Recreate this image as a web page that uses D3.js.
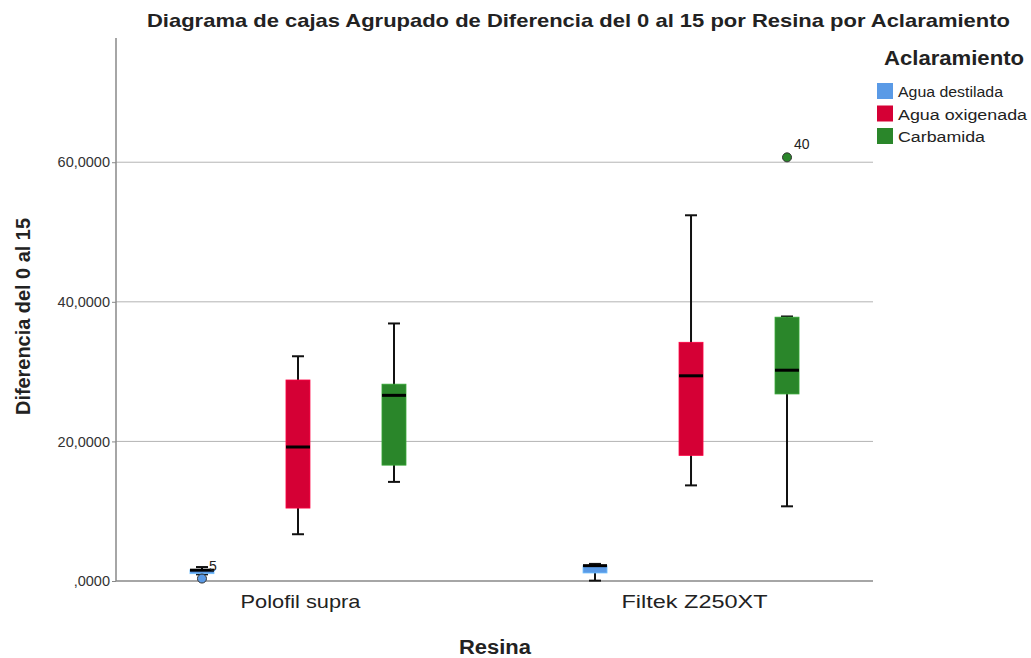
<!DOCTYPE html>
<html>
<head>
<meta charset="utf-8">
<script src="https://cdn.jsdelivr.net/npm/d3@7"></script>
<style>
  body { margin: 0; background: #fff; }
  text { font-family: Arial, "Liberation Sans", sans-serif; }
</style>
</head>
<body>
<div id="chart"></div>
<script>
// Data
let resinas = ["Polofil supra", "Filtek Z250XT"]
let aclaramientos = ["Agua destilada", "Agua oxigenada", "Carbamida"]
let colores = ["#5A9AE6", "#D50035", "#2A862A"]

// [min, q1, mediana, q3, max] por resina, en orden de aclaramiento
let cajasPolofil = [
  [0.95, 1.05, 1.55, 1.6, 2.0],
  [6.7, 10.45, 19.2, 28.8, 32.2],
  [14.2, 16.6, 26.6, 28.2, 36.9]
]
let cajasFiltek = [
  [0.05, 1.15, 2.2, 2.2, 2.45],
  [13.7, 18.0, 29.4, 34.2, 52.4],
  [10.7, 26.8, 30.2, 37.8, 37.9]
]
// atipicos: resina, aclaramiento, valor, etiqueta
let atipicos = [
  {resina: "Polofil supra", grupo: "Agua destilada", valor: 0.35, caso: "5"},
  {resina: "Filtek Z250XT", grupo: "Carbamida", valor: 60.7, caso: "40"}
]
let yTicks = [0, 20, 40, 60]

let width = 1031, height = 658
let margin = {top: 38, right: 158, bottom: 77, left: 116}

let svg = d3.select("#chart")
  .append("svg")
  .attr("width", width)
  .attr("height", height)

let x = d3.scalePoint()
  .domain(resinas)
  .range([margin.left, width - margin.right])
  .padding(0.463)

let xSub = d3.scalePoint()
  .domain(aclaramientos)
  .range([-96, 96])

let y = d3.scaleLinear()
  .domain([0, 77.8])
  .range([height - margin.bottom, margin.top])

let color = d3.scaleOrdinal().domain(aclaramientos).range(colores)

// grid
svg.append("g")
  .selectAll("line")
  .data(yTicks.filter(d => d > 0))
  .enter()
  .append("line")
  .attr("x1", margin.left)
  .attr("x2", width - margin.right)
  .attr("y1", d => y(d))
  .attr("y2", d => y(d))
  .style("stroke", "#b4b4b4")
  .style("stroke-width", 1)

// eje Y
let yAxis = svg.append("g")
  .attr("transform", "translate(" + margin.left + ",0)")
  .call(d3.axisLeft(y).tickValues(yTicks).tickSize(4)
    .tickFormat(d => d === 0 ? ",0000" : d3.format(".4f")(d).replace(".", ",")))
yAxis.select(".domain").style("stroke", "#888").style("stroke-width", 1.5)
  .attr("d", "M0," + margin.top + "V" + (height - margin.bottom))
yAxis.selectAll(".tick line").style("stroke", "#888")
yAxis.selectAll("text")
  .style("font-size", "14.5px")
  .style("fill", "#333")
  .attr("x", -6)

// eje X
let catLen = {"Polofil supra": 120, "Filtek Z250XT": 146}
let xAxis = svg.append("g")
  .attr("transform", "translate(0," + (height - margin.bottom) + ")")
  .call(d3.axisBottom(x).tickSize(0))
xAxis.select(".domain").style("stroke", "#888").style("stroke-width", 1.5)
  .attr("d", "M" + margin.left + ",0H" + (width - margin.right))
xAxis.selectAll("text")
  .attr("y", 14)
  .attr("dx", (d, i) => i === 0 ? 2 : 3)
  .attr("textLength", d => catLen[d])
  .attr("lengthAdjust", "spacingAndGlyphs")
  .style("font-size", "19px")
  .style("fill", "#222")

// cajas
let cajas = []
resinas.forEach((r, i) => {
  let filas = i === 0 ? cajasPolofil : cajasFiltek
  filas.forEach((v, j) => {
    cajas.push({resina: r, grupo: aclaramientos[j], min: v[0], q1: v[1], med: v[2], q3: v[3], max: v[4]})
  })
})

let bw = 24
let g = svg.append("g")
  .selectAll("g")
  .data(cajas)
  .enter()
  .append("g")
  .attr("transform", d => "translate(" + (x(d.resina) + xSub(d.grupo)) + ",0)")

g.append("line")
  .attr("x1", 0).attr("x2", 0)
  .attr("y1", d => y(d.min)).attr("y2", d => y(d.max))
  .style("stroke", "#111").style("stroke-width", 2)

g.append("line")
  .attr("x1", -6).attr("x2", 6)
  .attr("y1", d => y(d.max)).attr("y2", d => y(d.max))
  .style("stroke", "#111").style("stroke-width", 2)

g.append("line")
  .attr("x1", -6).attr("x2", 6)
  .attr("y1", d => y(d.min)).attr("y2", d => y(d.min))
  .style("stroke", "#111").style("stroke-width", 2)

g.append("rect")
  .attr("x", -bw / 2)
  .attr("width", bw)
  .attr("y", d => y(d.q3))
  .attr("height", d => Math.max(2, y(d.q1) - y(d.q3)))
  .style("fill", d => color(d.grupo))
  .style("stroke", d => d3.color(color(d.grupo)).brighter(0.6))
  .style("stroke-width", 0.8)

g.append("line")
  .attr("x1", -bw / 2).attr("x2", bw / 2)
  .attr("y1", d => y(d.med)).attr("y2", d => y(d.med))
  .style("stroke", "#000").style("stroke-width", 3)

// atipicos
let at = svg.append("g")
  .selectAll("g")
  .data(atipicos)
  .enter()
  .append("g")
at.append("circle")
  .attr("cx", d => x(d.resina) + xSub(d.grupo))
  .attr("cy", d => y(d.valor))
  .attr("r", 4.5)
  .style("fill", d => color(d.grupo))
  .style("stroke", "#333")
  .style("stroke-width", 1)
at.append("text")
  .attr("x", d => x(d.resina) + xSub(d.grupo) + 7)
  .attr("y", d => y(d.valor) - 8)
  .style("font-size", "14px")
  .style("fill", "#222")
  .text(d => d.caso)

// titulos
svg.append("text")
  .attr("x", 578.5).attr("y", 27)
  .attr("text-anchor", "middle")
  .attr("textLength", 863)
  .attr("lengthAdjust", "spacingAndGlyphs")
  .style("font-size", "19px")
  .style("font-weight", "bold")
  .style("fill", "#222")
  .text("Diagrama de cajas Agrupado de Diferencia del 0 al 15 por Resina por Aclaramiento")

svg.append("text")
  .attr("x", 495).attr("y", 654)
  .attr("text-anchor", "middle")
  .attr("textLength", 72)
  .attr("lengthAdjust", "spacingAndGlyphs")
  .style("font-size", "20px")
  .style("font-weight", "bold")
  .style("fill", "#222")
  .text("Resina")

svg.append("text")
  .attr("transform", "translate(30,316.5) rotate(-90)")
  .attr("text-anchor", "middle")
  .attr("textLength", 197)
  .attr("lengthAdjust", "spacingAndGlyphs")
  .style("font-size", "20px")
  .style("font-weight", "bold")
  .style("fill", "#222")
  .text("Diferencia del 0 al 15")

// leyenda
svg.append("text")
  .attr("x", 884).attr("y", 65)
  .attr("textLength", 140)
  .attr("lengthAdjust", "spacingAndGlyphs")
  .style("font-size", "20px")
  .style("font-weight", "bold")
  .style("fill", "#222")
  .text("Aclaramiento")

let legLen = [105, 129, 87]
let leg = svg.append("g")
  .selectAll("g")
  .data(aclaramientos)
  .enter()
  .append("g")
  .attr("transform", (d, i) => "translate(877," + (83 + i * 22.5) + ")")
leg.append("rect")
  .attr("width", 16).attr("height", 16)
  .style("fill", d => color(d))
leg.append("text")
  .attr("x", 21).attr("y", 14)
  .attr("textLength", (d, i) => legLen[i])
  .attr("lengthAdjust", "spacingAndGlyphs")
  .style("font-size", "15.5px")
  .style("fill", "#222")
  .text(d => d)
</script>
</body>
</html>
